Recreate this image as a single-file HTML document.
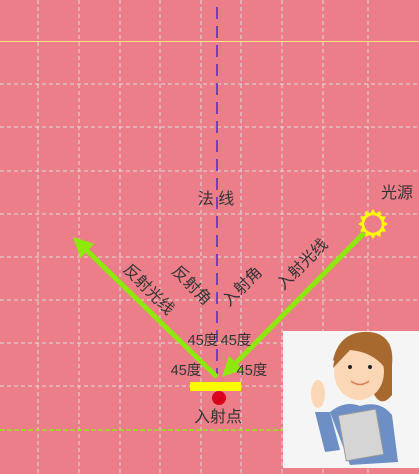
<!DOCTYPE html>
<html><head><meta charset="utf-8"><style>
html,body{margin:0;padding:0;width:419px;height:474px;overflow:hidden;background:#eb7e88}
svg{display:block}
text{font-family:"Liberation Sans","Noto Sans CJK SC",sans-serif;fill:#333}
</style></head><body>
<svg id="c" width="419" height="474">
<rect width="419" height="474" fill="#eb7e88"/>
<g id="grid"></g>
<line x1="217" y1="7" x2="217" y2="376" stroke="#5a2bd0" stroke-width="1.6" stroke-dasharray="12,7"/>
<text x="216" y="204" font-size="16" text-anchor="middle">法 线</text>
<g id="rays"></g>
<rect x="190" y="382" width="51" height="9" fill="#ffff00"/>
<circle cx="219" cy="398" r="7" fill="#d9001b"/>
<text x="218" y="422" font-size="16" text-anchor="middle">入射点</text>
<g transform="translate(373,224)">
<polygon id="sunpoly" fill="#ffff00"/>
<circle r="10" fill="#eb7e88" stroke="#ffff00" stroke-width="2.5"/>
</g>
<text x="397" y="198" font-size="16" text-anchor="middle">光源</text>
<text transform="translate(145,293) rotate(45)" font-size="16" text-anchor="middle">反射光线</text>
<text transform="translate(188,289) rotate(45)" font-size="16" text-anchor="middle">反射角</text>
<text transform="translate(246,290) rotate(-45)" font-size="16" text-anchor="middle">入射角</text>
<text transform="translate(306,268) rotate(-45)" font-size="16" text-anchor="middle">入射光线</text>
<text x="203" y="345" font-size="14.5" text-anchor="middle">45度</text>
<text x="236" y="345" font-size="14.5" text-anchor="middle">45度</text>
<text x="186" y="375" font-size="14.5" text-anchor="middle">45度</text>
<text x="252" y="375" font-size="14.5" text-anchor="middle">45度</text>
<g>
<rect x="283" y="331" width="136" height="137" fill="#f5f5f5"/>
<path d="M333 360 Q340 330 370 332 Q395 335 392 365 L392 395 Q380 410 372 390 Z" fill="#a8692f"/>
<ellipse cx="359" cy="372" rx="25" ry="28" fill="#fbd7b5"/>
<path d="M333 368 Q336 340 362 338 Q388 340 388 372 Q375 352 350 350 Z" fill="#a8692f"/>
<circle cx="350" cy="367" r="2" fill="#222"/><circle cx="370" cy="367" r="2" fill="#222"/>
<path d="M351 381 Q360 388 369 381" stroke="#e07a50" stroke-width="1.5" fill="none"/>
<path d="M330 412 Q345 400 360 406 Q380 400 392 415 L398 462 L350 465 Z" fill="#6d8fc6"/>
<path d="M315 412 L330 412 L340 450 L325 452 Z" fill="#6d8fc6"/>
<ellipse cx="318" cy="394" rx="7" ry="14" fill="#fbd7b5"/>
<rect x="342" y="412" width="38" height="46" fill="#d5d5d5" stroke="#999" transform="rotate(-10 361 435)"/>
</g>
</svg>
<script>
const gridXs=[38,79,120,160,201,241,282,323,368];
const gridYs=[84,127,171,214,257,300,343,386];
const incidentRay={from:[364,233],to:[222,377]};
const reflectedRay={from:[217,377],to:[73,237]};
const NS='http://www.w3.org/2000/svg';
const g=document.getElementById('grid');
function ln(p,x1,y1,x2,y2,st,w,dash){const l=document.createElementNS(NS,'line');l.setAttribute('x1',x1);l.setAttribute('y1',y1);l.setAttribute('x2',x2);l.setAttribute('y2',y2);l.setAttribute('stroke',st);l.setAttribute('stroke-width',w);if(dash)l.setAttribute('stroke-dasharray',dash);p.appendChild(l);return l;}
gridXs.forEach(x=>{const l=ln(g,x,0,x,474,'#dcdcdc',1,'4,3');

});
gridYs.forEach(y=>{const l=ln(g,0,y,419,y,'#dcdcdc',1,'4,3');

});
let t=ln(g,0,41.5,419,41.5,'#ffe08a',1);


let b=ln(g,0,430,419,430,'#9be21a',1.5,'5,2');


const rays=document.getElementById('rays');
function arrow(r,name){const [x1,y1]=r.from,[x2,y2]=r.to;const a=Math.atan2(y2-y1,x2-x1);
const L=20,W=10;const bx=x2-L*Math.cos(a),by=y2-L*Math.sin(a);
const l=ln(rays,x1,y1,bx,by,'#8ee80a',5);


const p=document.createElementNS(NS,'polygon');
const px=-Math.sin(a)*W,py=Math.cos(a)*W;
p.setAttribute('points',`${x2},${y2} ${bx+px},${by+py} ${bx-px},${by-py}`);
p.setAttribute('fill','#8ee80a');


rays.appendChild(p);}
arrow(incidentRay,'incident-ray');
arrow(reflectedRay,'reflected-ray');
let pts=[];for(let i=0;i<24;i++){const r=i%2?11:15;const an=i*Math.PI/12;pts.push((r*Math.cos(an)).toFixed(1)+','+(r*Math.sin(an)).toFixed(1));}
document.getElementById('sunpoly').setAttribute('points',pts.join(' '));
</script>
</body></html>
